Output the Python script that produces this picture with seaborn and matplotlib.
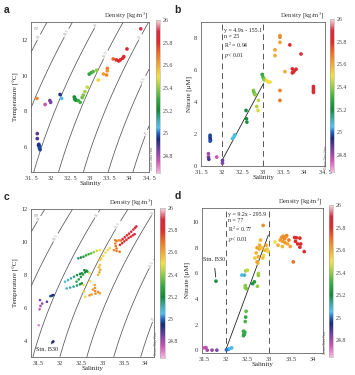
import numpy as np
import pandas as pd
import matplotlib
matplotlib.use("Agg")
import matplotlib.pyplot as plt
import seaborn as sns
from matplotlib.colors import LinearSegmentedColormap, Normalize
from matplotlib.cm import ScalarMappable

# ---- data ----
# panel a: T-S of surface samples (salinity, temperature, density colour)
a_sal = [31.70, 31.72, 31.71, 31.73, 31.69, 31.66, 31.66, 31.65, 31.86, 31.98, 32.00, 32.24, 32.28,
         32.60, 32.62, 32.64, 32.61, 32.70, 32.75, 32.80, 32.83, 32.87, 32.93, 32.98, 33.03, 33.08,
         33.17, 33.21, 33.34, 33.42, 33.44, 33.44, 33.59, 33.67, 33.73, 33.77, 33.83, 33.86, 33.94, 34.29]
a_temp = [6.15, 6.05, 5.95, 5.85, 6.10, 6.75, 6.47, 8.72, 8.38, 8.60, 8.50, 8.94, 8.72,
          8.80, 8.70, 8.62, 8.68, 8.60, 8.50, 8.77, 8.90, 9.10, 9.35, 10.08, 10.16, 10.22,
          10.30, 9.75, 10.09, 10.03, 10.40, 10.27, 10.93, 10.88, 10.82, 10.88, 10.97, 11.06, 11.49, 12.62]
a_dens = [24.97, 24.98, 24.99, 24.97, 24.96, 24.88, 24.90, 25.66, 24.76, 24.86, 24.85, 24.96, 25.05,
          25.21, 25.22, 25.20, 25.23, 25.30, 25.32, 25.36, 25.38, 25.42, 25.46, 25.28, 25.30, 25.33,
          25.40, 25.52, 25.62, 25.66, 25.68, 25.64, 25.72, 25.80, 25.82, 25.80, 25.83, 25.82, 25.85, 25.90]

# panel b: nitrate vs salinity
b_sal = [31.72, 31.72, 31.72, 31.73, 31.72, 31.68, 31.68, 31.69, 31.88, 32.02, 32.02,
         32.26, 32.30, 32.32, 32.59, 32.60, 32.61, 32.77, 32.78, 32.80, 32.81, 32.85, 32.89, 32.88,
         32.98, 33.00, 33.02, 33.03, 33.09, 33.13, 33.17, 33.29, 33.29, 33.41, 33.41, 33.41,
         33.41, 33.41, 33.53, 33.65, 33.71, 33.73, 33.76, 33.80, 33.71, 33.92,
         34.22, 34.22, 34.22, 34.22]
b_no3 = [1.92, 1.82, 1.72, 1.62, 1.55, 0.77, 0.56, 0.42, 0.56, 0.35, 0.18,
         1.72, 1.85, 1.95, 3.47, 2.95, 2.74, 4.72, 4.60, 4.50, 4.45, 3.72, 4.10, 3.47,
         5.72, 5.55, 5.45, 5.38, 5.34, 5.26, 5.24, 7.26, 6.90, 8.15, 8.05, 7.73,
         4.72, 4.10, 5.90, 7.57, 6.07, 5.86, 5.95, 6.05, 5.82, 7.00,
         4.97, 4.85, 4.72, 4.60]
b_dens = [24.97, 24.98, 24.97, 24.96, 24.99, 24.80, 24.85, 24.90, 24.76, 24.86, 24.84,
          25.05, 25.06, 25.07, 25.20, 25.21, 25.22, 25.38, 25.36, 25.37, 25.40, 25.44, 25.45, 25.47,
          25.30, 25.32, 25.35, 25.40, 25.50, 25.52, 25.50, 25.62, 25.60, 25.64, 25.66, 25.62,
          25.68, 25.70, 25.60, 25.80, 25.82, 25.84, 25.83, 25.85, 25.82, 25.83,
          25.86, 25.86, 25.87, 25.86]
b_fit_x = [32.0, 33.0]
b_fit_y = [0.3, 5.1]

# panel c: T-S of all depth samples
c_sal = [33.47, 33.52, 33.57, 33.62, 33.67, 33.72, 33.76, 33.79,
         33.41, 33.46, 33.51, 33.56, 33.61, 33.66, 33.71, 33.75,
         33.33, 33.38, 33.43, 33.30, 33.30, 33.31, 33.33, 33.27, 33.33, 33.40,
         33.17, 33.12, 33.07, 33.02, 32.97, 32.94,
         32.44, 32.50, 32.56, 32.62, 32.68, 32.74, 32.80, 32.87, 32.94,
         32.94, 32.92, 32.95, 32.93, 32.90,
         32.82, 32.83, 32.83, 32.84, 32.75, 32.70, 32.90, 32.94, 32.78,
         32.56, 32.58, 32.60, 32.72, 32.70,
         32.40, 32.45, 32.50, 32.55, 32.60, 32.63, 32.58, 32.65,
         32.13, 32.20, 32.27, 32.34, 32.41, 32.48, 32.52,
         32.17, 32.25, 32.33, 32.41, 32.48, 32.52,
         31.79, 31.82, 31.84, 31.86,
         31.55, 31.71, 31.60, 31.56, 31.54, 31.52,
         31.86, 31.84]
c_temp = [10.17, 10.28, 10.40, 10.50, 10.62, 10.75, 10.86, 10.94,
          9.82, 9.92, 10.03, 10.13, 10.24, 10.32, 10.40, 10.47,
          10.05, 10.10, 10.08, 10.10, 9.90, 9.75, 9.60, 9.50, 9.45, 9.40,
          9.62, 9.50, 9.35, 9.15, 9.00, 8.90,
          9.00, 9.05, 9.10, 9.18, 9.25, 9.30, 9.38, 9.45, 9.50,
          8.60, 8.45, 8.30, 8.15, 8.00,
          7.38, 7.20, 7.00, 6.85, 6.80, 6.75, 6.95, 6.88, 7.10,
          7.38, 6.97, 6.66, 7.60, 8.10,
          7.58, 7.72, 7.87, 8.02, 8.15, 8.25, 8.28, 8.20,
          7.58, 7.68, 7.78, 7.88, 7.98, 8.05, 8.09,
          7.17, 7.22, 7.28, 7.35, 7.42, 7.48,
          6.70, 6.72, 6.75, 6.77,
          6.46, 6.36, 6.25, 6.10, 5.90, 4.93,
          3.95, 3.90]
c_dens = [25.88] * 8 + [25.82] * 8 + \
         [25.68, 25.66, 25.70, 25.68, 25.66, 25.68, 25.70, 25.66, 25.68, 25.70] + \
         [25.52, 25.52, 25.50, 25.52, 25.54, 25.55] + \
         [25.15, 25.20, 25.25, 25.28, 25.30, 25.35, 25.40, 25.45, 25.50] + \
         [25.55, 25.58, 25.60, 25.60, 25.58] + \
         [25.62, 25.64, 25.66, 25.64, 25.62, 25.64, 25.66, 25.62, 25.64] + \
         [25.50, 25.48, 25.52, 25.50, 25.48] + \
         [25.30, 25.28, 25.25, 25.23, 25.20, 25.20, 25.20, 25.22] + \
         [25.07, 25.10, 25.12, 25.15, 25.18, 25.20, 25.22] + \
         [25.10, 25.12, 25.14, 25.16, 25.18, 25.20] + \
         [24.98, 24.97, 24.96, 24.96] + \
         [24.85, 24.88, 24.82, 24.80, 24.76, 24.70] + \
         [24.95, 24.95]

# panel d: nitrate vs salinity, all depths
d_sal = [31.50, 31.55, 31.58, 31.69, 31.80, 31.78,
         32.02, 32.06, 32.10, 32.14,
         32.41, 32.42, 32.43, 32.41, 32.44, 32.45, 32.46, 32.47,
         32.37, 32.43, 32.45, 32.45, 32.48, 32.46, 32.50, 32.62, 32.66, 32.73, 32.75, 32.75,
         32.67, 32.70, 32.74, 32.77, 32.78, 32.72, 32.80, 32.86, 32.83, 32.87, 32.90, 32.93,
         32.95, 32.97, 32.75, 32.72, 32.85, 33.13,
         33.20, 33.25, 33.28, 33.30, 33.32, 33.35, 33.38, 33.40, 33.42, 33.30, 33.45, 33.48, 33.36,
         33.55, 33.58, 33.62, 33.70, 33.65, 33.70, 33.72, 33.60, 33.80]
d_no3 = [0.20, 0.22, 0.02, 0.02, 0.02, 5.40,
         0.05, 0.08, 0.15, 0.20,
         1.50, 1.35, 1.25, 1.15, 1.42, 2.25, 2.60, 3.05,
         5.87, 5.87, 5.05, 4.90, 4.80, 6.20, 6.25, 5.20, 5.35, 5.00, 6.00, 5.85,
         7.20, 7.60, 6.80, 7.90, 8.20, 8.00, 8.60, 9.74, 8.00, 7.40, 7.80, 8.20,
         7.90, 7.70, 7.30, 6.90, 7.20, 8.45,
         8.20, 8.60, 8.80, 8.50, 8.90, 8.70, 8.85, 8.95, 8.30, 8.10, 8.60, 8.10, 8.40,
         6.90, 8.80, 8.78, 8.75, 8.30, 8.05, 8.30, 8.50, 7.70]
d_dens = [24.76, 24.78, 24.80, 24.82, 24.83, 25.22,
          25.00, 25.02, 25.05, 25.07,
          25.30, 25.32, 25.30, 25.28, 25.30, 25.32, 25.28, 25.35,
          25.05, 25.10, 25.38, 25.40, 25.38, 25.42, 25.45, 25.22, 25.25, 25.40, 25.42, 25.40,
          25.55, 25.58, 25.56, 25.60, 25.60, 25.62, 25.58, 25.65, 25.55, 25.52, 25.58, 25.60,
          25.55, 25.52, 25.60, 25.62, 25.56, 25.50,
          25.60, 25.62, 25.64, 25.62, 25.65, 25.66, 25.64, 25.66, 25.60, 25.58, 25.68, 25.62, 25.64,
          25.70, 25.80, 25.82, 25.82, 25.84, 25.85, 25.83, 25.80, 25.84]
d_fit_x = [32.0, 32.98]
d_fit_y = [0.0, 9.0]

cbar_ticks = [24.8, 25, 25.2, 25.4, 25.6, 25.8, 26]
sigma_levels = np.arange(23.0, 28.01, 0.5)

# ---- style ----
sns.set_style("white")
plt.rcParams['font.family'] = ['Liberation Serif', 'DejaVu Serif']
plt.rcParams['mathtext.fontset'] = 'stix'

# ODV-like palette
odv = LinearSegmentedColormap.from_list("odv", [
    (0.000, '#f2b6e2'), (0.074, '#d454b4'), (0.148, '#7442a2'), (0.222, '#1a2a7a'),
    (0.259, '#2262c2'), (0.296, '#52c2f0'), (0.333, '#44b2c0'), (0.407, '#128a3a'),
    (0.481, '#34aa44'), (0.570, '#a2d244'), (0.630, '#f2e244'), (0.704, '#f2aa32'),
    (0.778, '#ee7222'), (0.852, '#e02a2a'), (0.926, '#d82a3e'), (0.963, '#e88494'),
    (1.000, '#f6dade')])
norm = Normalize(24.65, 26.0)

W, H = 355, 375
fig = plt.figure(figsize=(W / 100, H / 100), dpi=100)


def px_axes(l, t, r, b):
    return fig.add_axes([l / W, 1 - b / H, (r - l) / W, (b - t) / H])


def sigma0(S, T):
    # UNESCO EOS-80 at the sea surface
    rw = (999.842594 + 6.793952e-2 * T - 9.095290e-3 * T**2 + 1.001685e-4 * T**3
          - 1.120083e-6 * T**4 + 6.536332e-9 * T**5)
    A = 0.824493 - 4.0899e-3 * T + 7.6438e-5 * T**2 - 8.2467e-7 * T**3 + 5.3875e-9 * T**4
    B = -5.72466e-3 + 1.0227e-4 * T - 1.6546e-6 * T**2
    return rw + A * S + B * S**1.5 + 4.8314e-4 * S**2 - 1000


def style_axes(ax, xlim, ylim, xticks, xlabels, yticks, ylabel, letter):
    ax.set_xlim(xlim)
    ax.set_ylim(ylim)
    ax.set_xticks(xticks)
    ax.set_xticklabels(xlabels)
    ax.set_yticks(yticks)
    ax.tick_params(labelsize=4.6, length=1.5, width=0.4, pad=1.2, colors='#333333', direction='out')
    ax.set_xlabel("Salinity", fontsize=5, labelpad=0.5)
    ax.set_ylabel(ylabel, fontsize=5, labelpad=1.5)
    for sp in ax.spines.values():
        sp.set_color('#666666')
        sp.set_linewidth(0.6)
    ax.text(1.0, 1.008, "Density [kg/m$^3$]", transform=ax.transAxes, ha='right', va='bottom',
            fontsize=4.8, color='#333333')
    fig.text(ax.get_position().x0 - 27 / W, ax.get_position().y1 + 7 / H, letter,
             family='Liberation Sans', fontsize=7.5, fontweight='bold', va='bottom')


def colorbar(l, t, r, b):
    cax = px_axes(l, t, r, b)
    cb = fig.colorbar(ScalarMappable(norm=norm, cmap=odv), cax=cax, ticks=cbar_ticks)
    cb.ax.set_yticklabels([f"{v:g}" for v in cbar_ticks])
    cb.ax.tick_params(labelsize=4.3, length=0, pad=2, colors='#444444')
    cb.outline.set_edgecolor('#aaaaaa')
    cb.outline.set_linewidth(0.4)
    cax.text(-0.4, 0.02, "Ocean Data View", rotation=90, fontsize=2.2, color='#666666',
             transform=cax.transAxes, ha='right', va='bottom', family='Liberation Sans')


def sigma_contours(ax, xlim, ylim):
    S, T = np.meshgrid(np.linspace(xlim[0], xlim[1], 200), np.linspace(ylim[0], ylim[1], 200))
    cs = ax.contour(S, T, sigma0(S, T), levels=sigma_levels, colors='#555555', linewidths=0.55, zorder=1)
    ax.clabel(cs, fmt='%g', fontsize=3, colors='#999999', inline=True, inline_spacing=1)
    ax.text(0.02, 0.98, r"$\sigma_\theta$", transform=ax.transAxes, ha='left', va='top',
            fontsize=4, color='#999999')


def scatter(ax, x, y, dens, size):
    df = pd.DataFrame({'x': x, 'y': y, 'dens': dens})
    sns.scatterplot(data=df, x='x', y='y', hue='dens', palette=odv, hue_norm=norm, s=size,
                    linewidth=0, legend=False, ax=ax, zorder=3)


def fit_panel(ax, fit_x, fit_y, x0, y0, lines):
    for v in (32, 33):
        ax.axvline(v, color='#555555', lw=0.7, ls=(0, (6, 4)), zorder=1)
    sns.lineplot(x=fit_x, y=fit_y, color='#222222', lw=0.6, ax=ax, zorder=2)
    ax.text(x0, y0, "\n".join(lines), fontsize=4.2, va='top', ha='left', linespacing=1.15,
            color='#222222')


ticks_a = [31.5, 32, 32.5, 33, 33.5, 34, 34.5]
labels_a = ["31. 5", "32", "32. 5", "33", "33. 5", "34", "34. 5"]
ticks_c = [31.5, 32, 32.5, 33, 33.5, 34]
labels_c = ["31.5", "32", "32.5", "33", "33.5", "34"]

# a
ax = px_axes(31, 22, 149, 172)
sigma_contours(ax, (31.5, 34.5), (4.6, 13))
scatter(ax, a_sal, a_temp, a_dens, 7)
style_axes(ax, (31.5, 34.5), (4.6, 13), ticks_a, labels_a, [6, 8, 10, 12], "Temperature [°C]", "a")
colorbar(156, 20, 160, 173)

# b
ax = px_axes(201, 22, 325, 166)
fit_panel(ax, b_fit_x, b_fit_y, 32.06, 8.6,
          ["y = 4.9x - 155.1", "n = 25", "R$^2$ = 0.94", "$p$< 0.01"])
scatter(ax, b_sal, b_no3, b_dens, 7)
style_axes(ax, (31.5, 34.5), (0, 9), ticks_a, labels_a, [0, 2, 4, 6, 8], "Nitrate [μM]", "b")
colorbar(330, 19, 334, 172)

# c
ax = px_axes(31, 209, 154, 357)
sigma_contours(ax, (31.34, 34.2), (3, 12))
scatter(ax, c_sal, c_temp, c_dens, 3.5)
ax.annotate("Stn. B30", xy=(31.84, 3.9), xytext=(31.45, 3.35), fontsize=4.5, color='#222222',
            arrowprops=dict(arrowstyle='-', color='#222222', lw=0.5))
style_axes(ax, (31.34, 34.2), (3, 12), ticks_c, labels_c, [4, 6, 8, 10, 12], "Temperature [°C]", "c")
colorbar(160, 208, 165, 358)

# d
ax = px_axes(202, 208, 323, 353)
fit_panel(ax, d_fit_x, d_fit_y, 32.05, 10.75,
          ["y = 9.2x - 295.9", "n = 77", "R$^2$ = 0.77", "$p$< 0.01"])
scatter(ax, d_sal, d_no3, d_dens, 7)
ax.annotate("Stn. B30", xy=(31.78, 5.5), xytext=(31.48, 6.95), fontsize=4.5, color='#222222',
            arrowprops=dict(arrowstyle='-', color='#222222', lw=0.6))
style_axes(ax, (31.46, 34.23), (-0.2, 11.1), ticks_c, labels_c, [0, 2, 4, 6, 8, 10], "Nitrate [μM]", "d")
colorbar(329, 205, 333, 357)

fig.savefig("out.png", dpi=100)
